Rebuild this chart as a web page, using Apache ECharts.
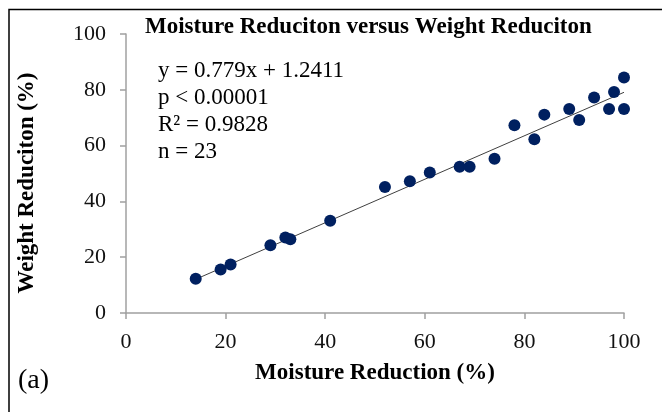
<!DOCTYPE html>
<html>
<head>
<meta charset="utf-8">
<title>Moisture vs Weight</title>
<script src="https://cdn.jsdelivr.net/npm/echarts@6/dist/echarts.min.js"></script>
<style>
  html, body { margin: 0; padding: 0; background: #fff; }
  #container { width: 662px; height: 412px; }
</style>
</head>
<body>
<div id="container"></div>
<script>
// data
var moistureRed = [14, 19, 21, 29, 32, 33, 41, 52, 57, 61, 67, 69, 74, 78, 82, 84, 89, 91, 94, 97, 98, 100, 100];
var weightRed = [12.3, 15.6, 17.4, 24.3, 27.1, 26.4, 33.1, 45.2, 47.2, 50.4, 52.4, 52.4, 55.3, 67.3, 62.3, 71.1, 73.1, 69.2, 77.2, 73.1, 79.2, 84.4, 73.1];
// trend line end points
var trendX = [14, 100];
var trendY = [12.1, 79.1];
var statLines = ['y = 0.779x + 1.2411', 'p < 0.00001', 'R\u00b2 = 0.9828', 'n = 23'];

var serif = '"Liberation Serif", "Times New Roman", serif';

var points = moistureRed.map(function (x, i) { return [x, weightRed[i]]; });
var trend = trendX.map(function (x, i) { return [x, trendY[i]]; });

var chart = echarts.init(document.getElementById('container'));
var option = {
  backgroundColor: '#fff',
  animation: false,
  title: {
    text: 'Moisture Reduciton versus Weight Reduciton',
    left: 140,
    top: 11,
    textStyle: { fontFamily: serif, fontWeight: 'bold', fontSize: 23, color: '#000' }
  },
  grid: { left: 126, top: 34, width: 498, height: 279 },
  xAxis: {
    type: 'value',
    min: 0, max: 100, interval: 20,
    name: 'Moisture Reduction (%)',
    nameLocation: 'middle',
    nameGap: 49,
    nameTextStyle: { fontFamily: serif, fontWeight: 'bold', fontSize: 23, color: '#000' },
    splitLine: { show: false },
    axisLine: { lineStyle: { color: '#a0a0a0', width: 1.5 } },
    axisTick: { show: true, length: 6, lineStyle: { color: '#a0a0a0', width: 1.5 } },
    axisLabel: { margin: 18, fontFamily: serif, fontSize: 22, color: '#111' }
  },
  yAxis: {
    type: 'value',
    min: 0, max: 100, interval: 20,
    splitLine: { show: false },
    axisLine: { show: true, lineStyle: { color: '#a0a0a0', width: 1.5 } },
    axisTick: { show: true, length: 6, lineStyle: { color: '#a0a0a0', width: 1.5 } },
    axisLabel: { margin: 20, fontFamily: serif, fontSize: 22, color: '#111' }
  },
  graphic: [
    {
      // frame of the figure, only left / top edges are inside the picture
      type: 'rect',
      shape: { x: 9, y: 9.5, width: 700, height: 500 },
      style: { fill: 'none', stroke: '#000', lineWidth: 1.5 },
      silent: true
    },
    {
      // y axis title, sits a bit below the axis middle in the original
      type: 'text',
      x: 27, y: 183,
      rotation: Math.PI / 2,
      style: {
        text: 'Weight Reduciton (%)',
        font: 'bold 23px ' + serif,
        textAlign: 'center',
        textVerticalAlign: 'middle',
        fill: '#000'
      }
    },
    {
      type: 'text',
      left: 158, top: 57,
      style: {
        text: statLines.join('\n'),
        font: '23px ' + serif,
        lineHeight: 27,
        fill: '#000'
      }
    },
    {
      type: 'text',
      left: 18, top: 367,
      style: { text: '(a)', font: '28px ' + serif, fill: '#000' }
    }
  ],
  series: [
    {
      type: 'line',
      data: trend,
      symbol: 'none',
      lineStyle: { color: '#404040', width: 1 },
      z: 1
    },
    {
      type: 'scatter',
      data: points,
      symbolSize: 12,
      itemStyle: { color: '#002060', opacity: 1 },
      z: 2
    }
  ]
};
chart.setOption(option);
</script>
</body>
</html>
